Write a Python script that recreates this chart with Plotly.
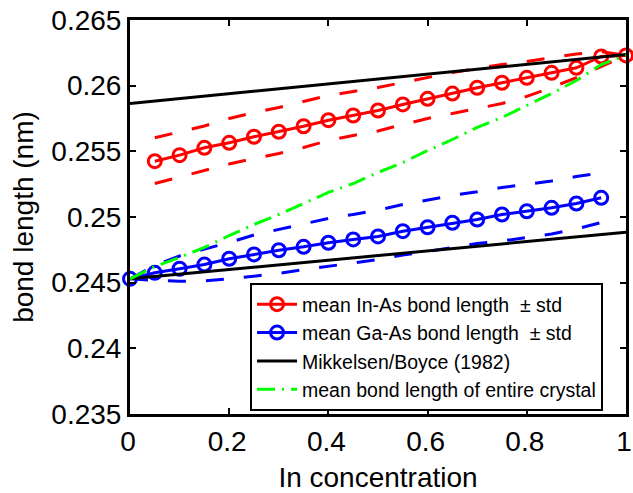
import plotly.graph_objects as go

# In-As (red)
x_inas = [0.05, 0.10, 0.15, 0.20, 0.25, 0.30, 0.35, 0.40, 0.45, 0.50,
          0.55, 0.60, 0.65, 0.70, 0.75, 0.80, 0.85, 0.90, 0.95, 1.00]
inas_mean = [0.25425, 0.25471, 0.25527, 0.25565, 0.25611, 0.25649, 0.25691, 0.25737, 0.25773, 0.25811,
             0.25857, 0.25900, 0.25940, 0.25984, 0.26022, 0.26060, 0.26098, 0.26136, 0.26222, 0.26230]
inas_upper = [0.25603, 0.25647, 0.25693, 0.25750, 0.25796, 0.25834, 0.25879, 0.25925, 0.25956, 0.25986,
              0.26024, 0.26062, 0.26100, 0.26131, 0.26161, 0.26184, 0.26215, 0.26241, 0.26260, 0.26230]
inas_lower = [0.25255, 0.25305, 0.25358, 0.25404, 0.25445, 0.25484, 0.25529, 0.25583, 0.25621, 0.25655,
              0.25704, 0.25750, 0.25788, 0.25826, 0.25864, 0.25918, 0.25986, 0.26062, 0.26146, 0.26230]

# Ga-As (blue)
x_gaas = [0.00, 0.05, 0.10, 0.15, 0.20, 0.25, 0.30, 0.35, 0.40, 0.45,
          0.50, 0.55, 0.60, 0.65, 0.70, 0.75, 0.80, 0.85, 0.90, 0.95]
gaas_mean = [0.24529, 0.24575, 0.24606, 0.24638, 0.24682, 0.24715, 0.24747, 0.24773, 0.24804, 0.24829,
             0.24852, 0.24892, 0.24922, 0.24956, 0.24981, 0.25019, 0.25044, 0.25070, 0.25103, 0.25146]
gaas_upper = [0.24529, 0.24631, 0.24703, 0.24753, 0.24806, 0.24863, 0.24905, 0.24947, 0.24989, 0.25019,
              0.25053, 0.25095, 0.25129, 0.25164, 0.25192, 0.25225, 0.25249, 0.25274, 0.25308, 0.25335]
gaas_lower = [0.24529, 0.24517, 0.24511, 0.24513, 0.24529, 0.24547, 0.24570, 0.24600, 0.24623, 0.24650,
              0.24676, 0.24711, 0.24737, 0.24768, 0.24798, 0.24817, 0.24844, 0.24871, 0.24909, 0.24958]

# Mikkelsen/Boyce (1982)
x_mb = [0.0, 1.0, None, 0.0, 1.0]
mb_vals = [0.25864, 0.26237, None, 0.24529, 0.24884]

# mean bond length of entire crystal
x_all = [0.00, 0.05, 0.10, 0.15, 0.20, 0.25, 0.30, 0.35, 0.40, 0.45, 0.50,
         0.55, 0.60, 0.65, 0.70, 0.75, 0.80, 0.85, 0.90, 0.95, 1.00]
all_mean = [0.24529, 0.24623, 0.24692, 0.24768, 0.24859, 0.24943, 0.25019, 0.25103, 0.25187, 0.25255, 0.25339,
            0.25415, 0.25506, 0.25590, 0.25682, 0.25758, 0.25849, 0.25940, 0.26039, 0.26161, 0.26230]

x_ticks = [0, 0.2, 0.4, 0.6, 0.8, 1]
x_ticktext = ["0", "0.2", "0.4", "0.6", "0.8", "1"]
y_ticks = [0.235, 0.24, 0.245, 0.25, 0.255, 0.26, 0.265]
y_ticktext = ["0.235", "0.24", "0.245", "0.25", "0.255", "0.26", "0.265"]

RED = "#ff0000"
BLUE = "#0000ff"
GREEN = "#00ff00"
FONT = "Liberation Sans, Arial, sans-serif"
DASH = "18px,20px"

fig = go.Figure()

fig.add_trace(go.Scatter(x=x_inas, y=inas_upper, mode="lines", line=dict(color=RED, width=3, dash=DASH),
                         showlegend=False, hoverinfo="skip"))
fig.add_trace(go.Scatter(x=x_inas, y=inas_lower, mode="lines", line=dict(color=RED, width=3, dash=DASH),
                         showlegend=False, hoverinfo="skip"))
fig.add_trace(go.Scatter(x=x_gaas, y=gaas_upper, mode="lines", line=dict(color=BLUE, width=3, dash=DASH),
                         showlegend=False, hoverinfo="skip"))
fig.add_trace(go.Scatter(x=x_gaas, y=gaas_lower, mode="lines", line=dict(color=BLUE, width=3, dash=DASH),
                         showlegend=False, hoverinfo="skip"))

fig.add_trace(go.Scatter(x=x_inas, y=inas_mean, mode="lines+markers", name="mean In-As bond length  \u00b1 std",
                         line=dict(color=RED, width=3), cliponaxis=False,
                         marker=dict(symbol="circle-open", size=13, color=RED, line=dict(width=3, color=RED))))
fig.add_trace(go.Scatter(x=x_gaas, y=gaas_mean, mode="lines+markers", name="mean Ga-As bond length  \u00b1 std",
                         line=dict(color=BLUE, width=3), cliponaxis=False,
                         marker=dict(symbol="circle-open", size=13, color=BLUE, line=dict(width=3, color=BLUE))))
fig.add_trace(go.Scatter(x=x_mb, y=mb_vals, mode="lines", name="Mikkelsen/Boyce (1982)",
                         line=dict(color="black", width=3)))
fig.add_trace(go.Scatter(x=x_all, y=all_mean, mode="lines", name="mean bond length of entire crystal",
                         line=dict(color=GREEN, width=3, dash="18px,7px,2px,7px")))

fig.update_layout(
    width=633, height=493,
    margin=dict(l=130, r=7, t=20, b=79, autoexpand=False),
    paper_bgcolor="white", plot_bgcolor="white",
    font=dict(family=FONT, size=28, color="black"),
    showlegend=True,
    legend=dict(x=0.242, y=0.17, xanchor="left", yanchor="middle",
                bgcolor="white", bordercolor="black", borderwidth=2,
                font=dict(family=FONT, size=19.5, color="black"),
                tracegroupgap=0, itemwidth=40),
    annotations=[dict(text="bond length (nm)", textangle=-90, xref="paper", yref="paper",
                      x=-0.216, y=0.5, xanchor="center", yanchor="middle", showarrow=False,
                      font=dict(family=FONT, size=28, color="black"))],
)
fig.update_xaxes(range=[0, 1], tickvals=x_ticks, ticktext=x_ticktext,
                 showline=True, linecolor="black", linewidth=3, mirror="ticks",
                 ticks="inside", ticklen=6, tickwidth=2, tickcolor="black",
                 showgrid=False, zeroline=False, ticklabeloverflow="allow", ticklabelshift=-2,
                 title=dict(text="In concentration", font=dict(size=28), standoff=17),
                 tickfont=dict(size=28))
fig.update_yaxes(range=[0.235, 0.265], tickvals=y_ticks, ticktext=y_ticktext,
                 showline=True, linecolor="black", linewidth=3, mirror="ticks",
                 ticks="inside", ticklen=6, tickwidth=2, tickcolor="black",
                 showgrid=False, zeroline=False, ticklabeloverflow="allow",
                 tickfont=dict(size=28))

fig.write_html("out.html")
